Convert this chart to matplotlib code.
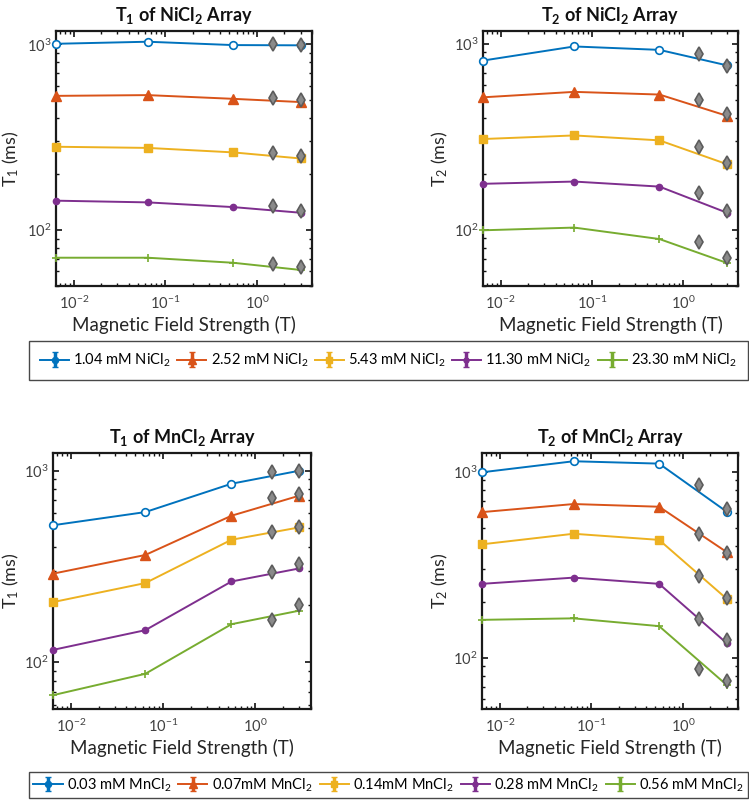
import numpy as np
import matplotlib
matplotlib.use("Agg")
import matplotlib.pyplot as plt
from matplotlib.ticker import LogLocator, NullFormatter, LogFormatterMathtext

plt.rcParams['font.family'] = ['Lato', 'DejaVu Sans']
plt.rcParams['mathtext.fontset'] = 'custom'
plt.rcParams['mathtext.rm'] = 'Lato'
plt.rcParams['mathtext.it'] = 'Lato:italic'
plt.rcParams['mathtext.bf'] = 'Lato:bold'
plt.rcParams['mathtext.default'] = 'regular'

# ---------------- data ----------------
field = [0.0064, 0.064, 0.55, 3.0]        # T
ref_field = [1.5, 3.0]                     # T (reference scanners)

ni_labels = ['1.04 mM NiCl$_2$', '2.52 mM NiCl$_2$', '5.43 mM NiCl$_2$',
             '11.30 mM NiCl$_2$', '23.30 mM NiCl$_2$']
mn_labels = ['0.03 mM MnCl$_2$', '0.07mM MnCl$_2$', '0.14mM MnCl$_2$',
             '0.28 mM MnCl$_2$', '0.56 mM MnCl$_2$']

# T1 of NiCl2 (ms)
t1_ni_104 = [1007, 1033, 991, 988]
t1_ni_252 = [528, 533, 509, 489]
t1_ni_543 = [281, 277, 262, 243]
t1_ni_1130 = [144, 141, 133, 124]
t1_ni_2330 = [71, 71, 66.7, 61]
t1_ni_ref = [[1007, 990], [515, 499], [261, 251], [134, 127], [66, 63]]

# T2 of NiCl2 (ms)
t2_ni_104 = [813, 968, 928, 767]
t2_ni_252 = [516, 552, 534, 411]
t2_ni_543 = [308, 322, 303, 226]
t2_ni_1130 = [177, 182, 171, 124]
t2_ni_2330 = [99.6, 103, 89.4, 66.6]
t2_ni_ref = [[880, 760], [501, 418], [280, 230], [158, 126], [86, 70.8]]

# T1 of MnCl2 (ms)
t1_mn_003 = [519, 608, 855, 1000]
t1_mn_007 = [290, 363, 582, 741]
t1_mn_014 = [206, 259, 436, 506]
t1_mn_028 = [116, 147, 264, 309]
t1_mn_056 = [67.3, 87, 158, 186]
t1_mn_ref = [[990, 1000], [717, 759], [481, 506], [297, 326], [166, 198]]

# T2 of MnCl2 (ms)
t2_mn_003 = [996, 1142, 1109, 612]
t2_mn_007 = [608, 672, 650, 371]
t2_mn_014 = [408, 465, 431, 208]
t2_mn_028 = [250, 270, 250, 120]
t2_mn_056 = [160, 163, 148, 71.5]
t2_mn_ref = [[851, 634], [464, 365], [276, 210], [162, 125], [87.5, 74.8]]

# ---------------- style ----------------
colors = ['#0072BD', '#D95319', '#EDB120', '#7E2F8E', '#77AC30']
markers = [dict(marker='o', ms=5.5, mfc='white', mew=1.2),
           dict(marker='^', ms=7, mew=1.0),
           dict(marker='s', ms=5.5, mew=1.0),
           dict(marker='o', ms=4.5, mew=1.0),
           dict(marker='+', ms=6, mew=1.2)]
axcol = '#262626'

fig = plt.figure(figsize=(7.49, 8.06), dpi=100)
W, H = 749.0, 806.0


def make_ax(l, t, r, b):
    return fig.add_axes([l / W, 1 - b / H, (r - l) / W, (b - t) / H])


panels = [
    (make_ax(56, 31, 312, 286), 'T$_\\mathbf{1}$ of NiCl$_\\mathbf{2}$ Array', 'T$_1$ (ms)',
     [t1_ni_104, t1_ni_252, t1_ni_543, t1_ni_1130, t1_ni_2330], t1_ni_ref, (50, 1180), -0.137),
    (make_ax(483, 31, 738, 286), 'T$_\\mathbf{2}$ of NiCl$_\\mathbf{2}$ Array', 'T$_2$ (ms)',
     [t2_ni_104, t2_ni_252, t2_ni_543, t2_ni_1130, t2_ni_2330], t2_ni_ref, (50, 1172), -0.129),
    (make_ax(53, 453, 311, 709), 'T$_\\mathbf{1}$ of MnCl$_\\mathbf{2}$ Array', 'T$_1$ (ms)',
     [t1_mn_003, t1_mn_007, t1_mn_014, t1_mn_028, t1_mn_056], t1_mn_ref, (57, 1237), -0.124),
    (make_ax(482, 453, 738, 709), 'T$_\\mathbf{2}$ of MnCl$_\\mathbf{2}$ Array', 'T$_2$ (ms)',
     [t2_mn_003, t2_mn_007, t2_mn_014, t2_mn_028, t2_mn_056], t2_mn_ref, (53, 1265), -0.125),
]

legend_handles = {}
for idx, (ax, title, ylabel, series, refs, ylim, ylx) in enumerate(panels):
    ax.set_xscale('log')
    ax.set_yscale('log')
    handles = []
    for i, ys in enumerate(series):
        ax.plot(field, ys, color=colors[i], lw=1.4, mec=colors[i], mfc=markers[i].get('mfc', colors[i]),
                marker=markers[i]['marker'], ms=markers[i]['ms'], mew=markers[i]['mew'],
                clip_on=False, zorder=3)
        # proxy errorbar artist for legend appearance
        h = ax.errorbar([np.nan], [np.nan], yerr=[np.nan], color=colors[i], lw=1.4,
                        marker=markers[i]['marker'], ms=markers[i]['ms'] * 0.8,
                        mfc=colors[i], mec=colors[i], capsize=2.5, elinewidth=2.5)
        handles.append(h)
        ax.plot(ref_field, refs[i], linestyle='none', marker='d', ms=7.5,
                mfc='#8a8a8a', mec='#5c5c5c', mew=1.2, clip_on=False, zorder=4)
    legend_handles[idx] = handles
    ax.set_xlim(0.0064, 4.0)
    ax.set_ylim(*ylim)
    ax.xaxis.set_major_locator(LogLocator(base=10, numticks=10))
    ax.xaxis.set_minor_locator(LogLocator(base=10, subs=np.arange(2, 10), numticks=20))
    ax.yaxis.set_major_locator(LogLocator(base=10, numticks=10))
    ax.yaxis.set_minor_locator(LogLocator(base=10, subs=np.arange(2, 10), numticks=20))
    ax.xaxis.set_major_formatter(LogFormatterMathtext())
    ax.yaxis.set_major_formatter(LogFormatterMathtext())
    ax.xaxis.set_minor_formatter(NullFormatter())
    ax.yaxis.set_minor_formatter(NullFormatter())
    ax.tick_params(which='both', direction='in', top=True, right=True, colors='#111111',
                   labelcolor='#404040', labelsize=10.5)
    ax.tick_params(which='major', length=4.5, width=1.2)
    ax.tick_params(which='minor', length=2.5, width=1.0)
    ax.tick_params(axis='x', which='major', pad=6)
    ax.tick_params(axis='y', which='major', pad=3)
    for sp in ax.spines.values():
        sp.set_linewidth(1.6)
        sp.set_color('#1a1a1a')
    ax.set_title(title, fontsize=13, fontweight='bold', color='#111111', pad=7)
    ax.set_ylabel(ylabel, fontsize=13, color=axcol)
    ax.yaxis.set_label_coords(ylx, 0.5)
    ax.set_xlabel('Magnetic Field Strength (T)', fontsize=13.5, color=axcol, labelpad=3)

leg1 = fig.legend(legend_handles[0], ni_labels, loc='center', ncol=5, mode='expand',
                  bbox_to_anchor=(29 / W, 1 - 376 / H, 719 / W, 31 / H),
                  fontsize=10.5, frameon=True, fancybox=False, edgecolor='#1a1a1a',
                  handlelength=2.0, handletextpad=0.3, borderpad=0.75, borderaxespad=0.0)
leg1.get_frame().set_linewidth(1.0)
leg2 = fig.legend(legend_handles[2], mn_labels, loc='center', ncol=5, mode='expand',
                  bbox_to_anchor=(29 / W, 1 - 796 / H, 719 / W, 22 / H),
                  fontsize=10.5, frameon=True, fancybox=False, edgecolor='#1a1a1a',
                  handlelength=2.0, handletextpad=0.3, borderpad=0.3, borderaxespad=0.0)
leg2.get_frame().set_linewidth(1.0)

fig.savefig('out.png', dpi=100)
